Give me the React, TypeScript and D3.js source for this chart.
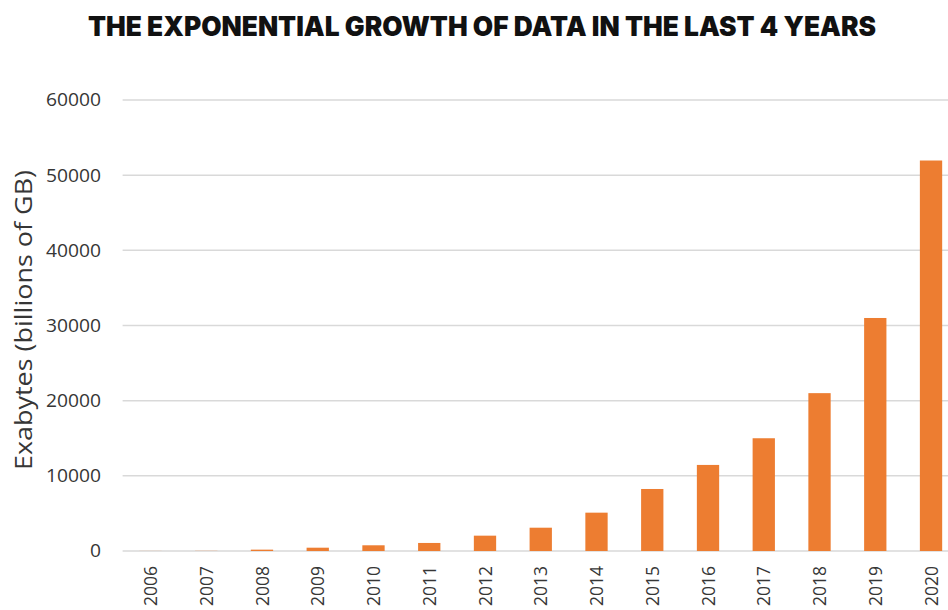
import React from "react";
import * as d3 from "d3";

const years = ["2006","2007","2008","2009","2010","2011","2012","2013","2014","2015","2016","2017","2018","2019","2020"];
const exabytes = [10, 20, 180, 440, 760, 1070, 2040, 3100, 5100, 8250, 11450, 15000, 21000, 31000, 51950];
const yTicks = [0, 10000, 20000, 30000, 40000, 50000, 60000];

const W = 948;
const H = 610;
const plot = { left: 122.6, right: 958.9, top: 100, bottom: 551 };

export default function App() {
  const x = d3.scaleBand<string>()
    .domain(years)
    .range([plot.left, plot.right])
    .paddingInner(0.6)
    .paddingOuter(0.3);
  const y = d3.scaleLinear().domain([0, 60000]).range([plot.bottom, plot.top]);
  const fontAxis = "'Open Sans', 'Noto Sans', sans-serif";
  const textColor = "#363636";

  return (
    <svg width={W} height={H} style={{ position: "absolute", left: 0, top: 0, background: "#fff" }}>
      <rect width={W} height={H} fill="#fff" />
      <text
        x={482}
        y={36}
        textAnchor="middle"
        fontFamily="Inter, 'Noto Sans', sans-serif"
        fontWeight={900}
        fontSize={27}
        textLength={788}
        lengthAdjust="spacingAndGlyphs"
        fill="#111"
      >
        THE EXPONENTIAL GROWTH OF DATA IN THE LAST 4 YEARS
      </text>

      {yTicks.map((t) => (
        <g key={t}>
          {t !== 0 && (
            <line x1={plot.left} x2={W} y1={y(t)} y2={y(t)} stroke="#d9d9d9" strokeWidth={1.5} />
          )}
          <text
            x={101}
            y={y(t)}
            dy="0.35em"
            textAnchor="end"
            fontFamily={fontAxis}
            fontSize={18.5}
            textLength={String(t).length * 11}
            lengthAdjust="spacingAndGlyphs"
            fill={textColor}
          >
            {t}
          </text>
        </g>
      ))}
      <line x1={plot.left} x2={W} y1={y(0)} y2={y(0)} stroke="#d9d9d9" strokeWidth={1.5} />

      {years.map((yr, i) => (
        <rect
          key={yr}
          x={x(yr)}
          y={y(exabytes[i])}
          width={x.bandwidth()}
          height={y(0) - y(exabytes[i])}
          fill="#ed7d31"
        />
      ))}

      {years.map((yr) => {
        const cx = (x(yr) as number) + x.bandwidth() / 2;
        return (
          <text
            key={yr}
            transform={`translate(${cx},${566}) rotate(-90)`}
            textAnchor="end"
            dy="0.35em"
            fontFamily={fontAxis}
            fontSize={19}
            textLength={40}
            lengthAdjust="spacingAndGlyphs"
            fill={textColor}
          >
            {yr}
          </text>
        );
      })}

      <text
        transform={`translate(24,${320}) rotate(-90)`}
        textAnchor="middle"
        dy="0.35em"
        fontFamily={fontAxis}
        fontSize={23}
        textLength={300}
        lengthAdjust="spacingAndGlyphs"
        fill={textColor}
      >
        Exabytes (billions of GB)
      </text>
    </svg>
  );
}
